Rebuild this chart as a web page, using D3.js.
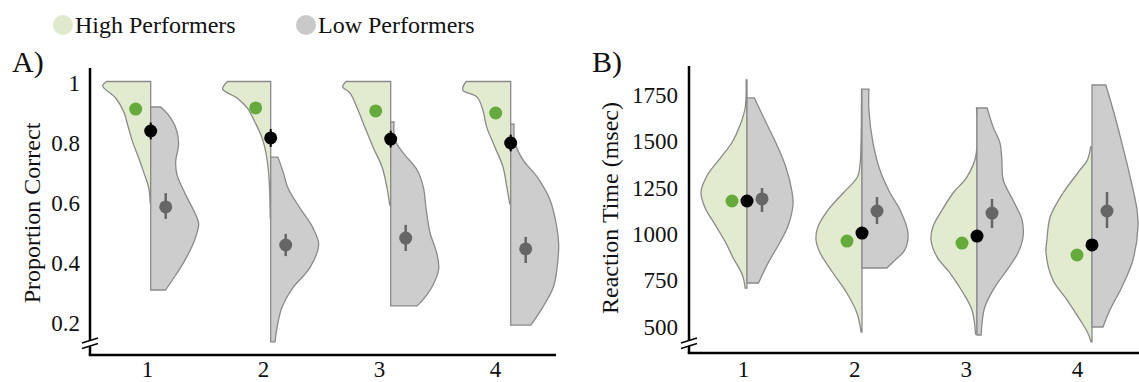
<!DOCTYPE html>
<html>
<head>
<meta charset="utf-8">
<script src="https://cdn.jsdelivr.net/npm/d3@7"></script>
<style>
  body { margin: 0; background: #fff; }
  svg { display: block; }
  text { font-family: "Liberation Serif", "DejaVu Serif", serif; fill: #111; }
</style>
</head>
<body>
<div id="chart"></div>
<script>
const conditions = [1, 2, 3, 4]
const legendLabels = ["High Performers", "Low Performers"]
const accTicks = [0.2, 0.4, 0.6, 0.8, 1]
const rtTicks = [500, 750, 1000, 1250, 1500, 1750]

// violin outlines: [value, relative half width]
const accHighShape = [
  [[1.005, 0.92], [0.99, 1.0], [0.95, 0.73], [0.903, 0.56], [0.86, 0.48], [0.803, 0.375], [0.75, 0.25], [0.693, 0.125], [0.65, 0.04], [0.6, 0.01]],
  [[1.005, 0.9], [0.98, 1.0], [0.95, 0.7], [0.917, 0.49], [0.87, 0.33], [0.817, 0.18], [0.75, 0.08], [0.67, 0.03], [0.55, 0.01]],
  [[1.005, 0.93], [0.987, 1.0], [0.967, 0.85], [0.91, 0.68], [0.853, 0.54], [0.787, 0.37], [0.72, 0.18], [0.653, 0.08], [0.593, 0.02]],
  [[1.005, 0.93], [0.977, 1.0], [0.953, 0.7], [0.91, 0.58], [0.853, 0.5], [0.787, 0.33], [0.72, 0.16], [0.653, 0.08], [0.597, 0.02]]
]
const accLowShape = [
  [[0.92, 0.21], [0.883, 0.42], [0.837, 0.55], [0.793, 0.58], [0.737, 0.52], [0.693, 0.55], [0.627, 0.73], [0.56, 0.94], [0.53, 1.0], [0.47, 0.9], [0.403, 0.69], [0.35, 0.48], [0.31, 0.31]],
  [[0.753, 0.15], [0.703, 0.26], [0.65, 0.36], [0.583, 0.61], [0.517, 0.88], [0.46, 1.0], [0.383, 0.81], [0.317, 0.46], [0.25, 0.23], [0.183, 0.13], [0.137, 0.09]],
  [[0.87, 0.07], [0.81, 0.09], [0.767, 0.26], [0.71, 0.55], [0.653, 0.68], [0.577, 0.74], [0.5, 0.82], [0.433, 0.96], [0.38, 1.0], [0.32, 0.86], [0.277, 0.67], [0.257, 0.55]],
  [[0.863, 0.07], [0.8, 0.09], [0.743, 0.26], [0.687, 0.55], [0.61, 0.82], [0.52, 0.96], [0.46, 1.0], [0.377, 0.96], [0.32, 0.89], [0.253, 0.67], [0.193, 0.42]]
]
const rtHighShape = [
  [[1831, 0.02], [1680, 0.04], [1588, 0.15], [1497, 0.32], [1410, 0.58], [1319, 0.86], [1227, 1.0], [1141, 0.91], [1050, 0.69], [958, 0.47], [872, 0.3], [780, 0.1], [710, 0.04]],
  [[1780, 0.01], [1500, 0.02], [1384, 0.04], [1308, 0.1], [1222, 0.41], [1130, 0.74], [1039, 0.96], [969, 1.0], [899, 0.91], [791, 0.63], [683, 0.33], [575, 0.11], [473, 0.02]],
  [[1680, 0.01], [1416, 0.03], [1308, 0.22], [1222, 0.52], [1130, 0.76], [1039, 0.96], [969, 1.0], [878, 0.87], [791, 0.59], [683, 0.3], [592, 0.11], [462, 0.03]],
  [[1470, 0.03], [1400, 0.1], [1346, 0.26], [1222, 0.63], [1093, 0.91], [969, 0.98], [900, 1.0], [753, 0.85], [645, 0.54], [538, 0.26], [468, 0.09], [420, 0.02]]
]
const rtLowShape = [
  [[1734, 0.16], [1588, 0.44], [1497, 0.62], [1373, 0.83], [1227, 0.98], [1160, 1.0], [1050, 0.9], [958, 0.72], [836, 0.44], [737, 0.25]],
  [[1782, 0.15], [1669, 0.15], [1491, 0.24], [1346, 0.39], [1222, 0.61], [1130, 0.83], [1006, 1.0], [915, 0.93], [861, 0.72], [818, 0.54]],
  [[1680, 0.22], [1578, 0.35], [1491, 0.5], [1400, 0.54], [1292, 0.57], [1184, 0.78], [1076, 0.98], [985, 1.0], [899, 0.89], [807, 0.65], [716, 0.39], [608, 0.17], [522, 0.11], [457, 0.09]],
  [[1804, 0.3], [1669, 0.46], [1491, 0.65], [1308, 0.83], [1130, 0.98], [1040, 1.0], [861, 0.89], [716, 0.65], [592, 0.39], [500, 0.24]]
]

// means and error bars
const accHighMean = [0.913, 0.917, 0.907, 0.9]
const accAllMean = [0.84, 0.817, 0.813, 0.8]
const accAllLo = [0.812, 0.787, 0.785, 0.772]
const accAllHi = [0.868, 0.847, 0.841, 0.828]
const accLowMean = [0.587, 0.46, 0.483, 0.447]
const accLowLo = [0.547, 0.423, 0.44, 0.4]
const accLowHi = [0.633, 0.497, 0.527, 0.487]

const rtHighMean = [1179, 963, 952, 888]
const rtAllMean = [1179, 1006, 990, 942]
const rtAllLo = [1155, 982, 966, 918]
const rtAllHi = [1203, 1030, 1014, 966]
const rtLowMean = [1190, 1125, 1114, 1125]
const rtLowLo = [1120, 1055, 1033, 1033]
const rtLowHi = [1249, 1200, 1190, 1227]

const width = 1139
const height = 382
const highFill = "#e2ebd0"
const lowFill = "#cdcdcd"
const outline = "#8a8a8a"
const highDot = "#66aa3d"
const lowDot = "#666666"
const dotRadius = 6.5
const dotOffset = 15

const svg = d3.select("#chart")
  .append("svg")
  .attr("width", width)
  .attr("height", height)

function drawPanel(p) {
  const y = d3.scaleLinear().domain(p.domain).range(p.yRange)
  const xSplit = d3.scaleLinear().domain([1, 4]).range(p.splitRange)
  const xTick = d3.scaleLinear().domain([1, 4]).range(p.tickRange)
  const w = d3.scaleLinear().domain([0, 1]).range([0, p.halfWidth])
  const g = svg.append("g")

  const half = (side, c) => d3.area()
    .curve(d3.curveCatmullRom.alpha(0.5))
    .y(d => y(d[0]))
    .x0(xSplit(c))
    .x1(d => xSplit(c) + side * w(d[1]))

  conditions.forEach((c, i) => {
    g.append("path")
      .datum(p.high[i])
      .attr("d", half(-1, c))
      .attr("fill", highFill)
      .attr("stroke", outline)
      .attr("stroke-width", 1.3)
    g.append("path")
      .datum(p.low[i])
      .attr("d", half(1, c))
      .attr("fill", lowFill)
      .attr("stroke", outline)
      .attr("stroke-width", 1.3)
  })

  // group means
  g.selectAll(".high-dot")
    .data(conditions)
    .enter()
    .append("circle")
    .attr("cx", c => xSplit(c) - dotOffset)
    .attr("cy", (c, i) => y(p.highMean[i]))
    .attr("r", dotRadius)
    .attr("fill", highDot)

  g.selectAll(".low-bar")
    .data(conditions)
    .enter()
    .append("line")
    .attr("x1", c => xSplit(c) + dotOffset)
    .attr("x2", c => xSplit(c) + dotOffset)
    .attr("y1", (c, i) => y(p.lowLo[i]))
    .attr("y2", (c, i) => y(p.lowHi[i]))
    .attr("stroke", lowDot)
    .attr("stroke-width", 2.5)
  g.selectAll(".low-dot")
    .data(conditions)
    .enter()
    .append("circle")
    .attr("cx", c => xSplit(c) + dotOffset)
    .attr("cy", (c, i) => y(p.lowMean[i]))
    .attr("r", dotRadius)
    .attr("fill", lowDot)

  g.selectAll(".all-bar")
    .data(conditions)
    .enter()
    .append("line")
    .attr("x1", c => xSplit(c))
    .attr("x2", c => xSplit(c))
    .attr("y1", (c, i) => y(p.allLo[i]))
    .attr("y2", (c, i) => y(p.allHi[i]))
    .attr("stroke", "#000")
    .attr("stroke-width", 2)
  g.selectAll(".all-dot")
    .data(conditions)
    .enter()
    .append("circle")
    .attr("cx", c => xSplit(c))
    .attr("cy", (c, i) => y(p.allMean[i]))
    .attr("r", dotRadius)
    .attr("fill", "#000")

  // axes
  const yAxis = g.append("g")
    .attr("transform", `translate(${p.axisX}, 0)`)
    .call(d3.axisLeft(y).tickValues(p.ticks).tickFormat(d => String(d)).tickSize(0).tickPadding(p.yPad))
  yAxis.select(".domain").remove()
  yAxis.attr("font-family", null).attr("font-size", 23)
  yAxis.selectAll("text").attr("fill", "#111")

  const xAxis = g.append("g")
    .attr("transform", `translate(0, ${p.axisY})`)
    .call(d3.axisBottom(xTick).tickValues(conditions).tickFormat(d => String(d)).tickSize(0).tickPadding(p.xPad))
  xAxis.select(".domain").remove()
  xAxis.attr("font-family", null).attr("font-size", 23)
  xAxis.selectAll("text").attr("fill", "#111")

  g.append("line")
    .attr("x1", p.axisX).attr("x2", p.axisX)
    .attr("y1", p.axisTop).attr("y2", p.axisY)
    .attr("stroke", "#000").attr("stroke-width", 2.5)
  g.append("line")
    .attr("x1", p.axisX - 1.25).attr("x2", p.xEnd)
    .attr("y1", p.axisY).attr("y2", p.axisY)
    .attr("stroke", "#000").attr("stroke-width", 2.5)

  // axis break
  g.append("rect")
    .attr("x", p.axisX - 3).attr("y", p.breakY - 2)
    .attr("width", 6).attr("height", 5)
    .attr("fill", "#fff")
  ;[p.breakY - 2.5, p.breakY + 3].forEach(b => {
    g.append("line")
      .attr("x1", p.axisX - 8).attr("x2", p.axisX + 8)
      .attr("y1", b + 2.5).attr("y2", b - 2.5)
      .attr("stroke", "#000").attr("stroke-width", 1.5)
  })

  g.append("text")
    .attr("transform", `translate(${p.labelX}, ${p.labelY}) rotate(-90)`)
    .attr("text-anchor", "middle")
    .attr("font-size", 24)
    .text(p.label)

  g.append("text")
    .attr("x", p.letterX)
    .attr("y", 72)
    .attr("font-size", 30)
    .text(p.letter)
}

drawPanel({
  domain: [0.2, 1], yRange: [323, 83], ticks: accTicks,
  splitRange: [150.7, 510.7], tickRange: [147, 495], halfWidth: 48,
  high: accHighShape, low: accLowShape,
  highMean: accHighMean, allMean: accAllMean, allLo: accAllLo, allHi: accAllHi,
  lowMean: accLowMean, lowLo: accLowLo, lowHi: accLowHi,
  axisX: 90, axisTop: 68, axisY: 355, xEnd: 556, yPad: 10, xPad: 6, breakY: 343,
  label: "Proportion Correct", labelX: 40, labelY: 213, letter: "A)", letterX: 12
})

drawPanel({
  domain: [500, 1750], yRange: [327, 95], ticks: rtTicks,
  splitRange: [747, 1092], tickRange: [743, 1077], halfWidth: 46,
  high: rtHighShape, low: rtLowShape,
  highMean: rtHighMean, allMean: rtAllMean, allLo: rtAllLo, allHi: rtAllHi,
  lowMean: rtLowMean, lowLo: rtLowLo, lowHi: rtLowHi,
  axisX: 689, axisTop: 66, axisY: 353, xEnd: 1139, yPad: 11, xPad: 8, breakY: 343,
  label: "Reaction Time (msec)", labelX: 618, labelY: 208, letter: "B)", letterX: 592
})

// legend
const legendColors = ["#dfe9cc", "#c9c9c9"]
const legendX = [63, 306]
const legend = svg.append("g")
legendLabels.forEach((label, i) => {
  legend.append("circle")
    .attr("cx", legendX[i]).attr("cy", 25).attr("r", 10)
    .attr("fill", legendColors[i])
  legend.append("text")
    .attr("x", legendX[i] + 12).attr("y", 33)
    .attr("font-size", 24)
    .text(label)
})
</script>
</body>
</html>
